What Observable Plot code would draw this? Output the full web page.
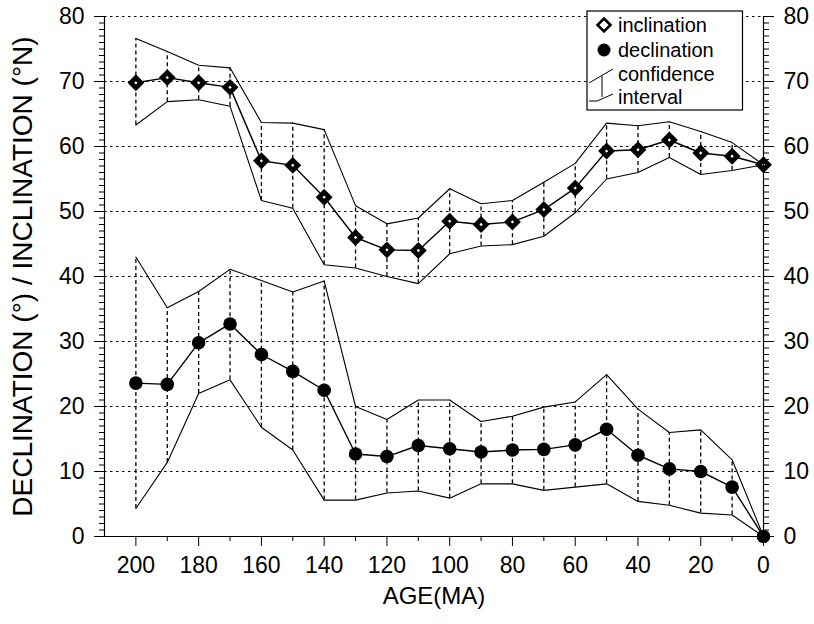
<!DOCTYPE html>
<html>
<head>
<meta charset="utf-8">
<script src="https://cdn.jsdelivr.net/npm/d3@7"></script>
<script src="https://cdn.jsdelivr.net/npm/@observablehq/plot@0.6"></script>
<style>
  html, body { margin: 0; padding: 0; background: #fff; }
  #chart svg { font-family: "Liberation Sans", Arial, sans-serif; }
</style>
</head>
<body>
<div id="chart"></div>
<script>
const ages = [200,190,180,170,160,150,140,130,120,110,100,90,80,70,60,50,40,30,20,10,0];
const incMean  = [69.8,70.6,69.8,69.1,57.8,57.1,52.2,46.0,44.1,44.0,48.5,48.0,48.4,50.3,53.6,59.3,59.5,61.0,59.0,58.5,57.2];
const incUpper = [76.6,74.6,72.5,72.1,63.7,63.6,62.6,50.9,48.1,49.0,53.5,51.2,51.7,54.5,57.4,63.6,63.2,63.8,62.3,60.6,57.2];
const incLower = [63.3,66.9,67.2,66.2,51.7,50.5,41.8,41.3,40.0,38.9,43.5,44.7,44.9,46.2,49.8,55.0,56.0,58.3,55.7,56.3,57.2];
const decMean  = [23.6,23.4,29.8,32.7,28.0,25.4,22.5,12.7,12.3,14.0,13.5,13.0,13.3,13.4,14.1,16.5,12.5,10.4,10.0,7.6,0];
const decUpper = [43.0,35.2,37.7,41.1,39.4,37.6,39.3,20.0,18.0,21.0,21.0,17.7,18.5,19.9,20.7,24.9,19.6,16.0,16.4,11.8,0];
const decLower = [4.3,11.4,22.0,24.1,16.8,13.3,5.6,5.6,6.7,7.0,5.9,8.1,8.1,7.1,7.6,8.1,5.4,4.8,3.6,3.3,0];

const xDomain = [210, 0];
const yDomain = [0, 80];
const xMajorTicks = [200,180,160,140,120,100,80,60,40,20,0];
const xMinorTicks = [190,170,150,130,110,90,70,50,30,10];
const yMajorTicks = [0,10,20,30,40,50,60,70,80];
const yMinorTicks = d3.range(0, 81, 1);
const yGrid = [0,10,20,30,40,50,60,70,80];
const xLabel = "AGE(MA)";
const yLabel = "DECLINATION (°) / INCLINATION (°N)";
const legendItems = ["inclination", "declination", "confidence", "interval"];

const inc = ages.map((a, i) => ({age: a, mean: incMean[i], hi: incUpper[i], lo: incLower[i]}));
const dec = ages.map((a, i) => ({age: a, mean: decMean[i], hi: decUpper[i], lo: decLower[i]}));

const fontSize = 23;

const plot = Plot.plot({
  width: 814,
  height: 624,
  marginLeft: 104,
  marginRight: 51,
  marginTop: 16,
  marginBottom: 88,
  style: {fontFamily: '"Liberation Sans", Arial, sans-serif', background: "white", color: "black", overflow: "visible"},
  x: {domain: xDomain, axis: null},
  y: {domain: yDomain, axis: null},
  marks: [
    Plot.ruleY(yGrid, {stroke: "black", strokeWidth: 1, strokeDasharray: "2.5,3.5"}),
    Plot.ruleX(inc, {x: "age", y1: "lo", y2: "hi", stroke: "black", strokeWidth: 1.3, strokeDasharray: "4,3"}),
    Plot.ruleX(dec, {x: "age", y1: "lo", y2: "hi", stroke: "black", strokeWidth: 1.3, strokeDasharray: "4,3"}),
    Plot.line(inc, {x: "age", y: "hi", stroke: "black", strokeWidth: 1.1}),
    Plot.line(inc, {x: "age", y: "lo", stroke: "black", strokeWidth: 1.1}),
    Plot.line(dec, {x: "age", y: "hi", stroke: "black", strokeWidth: 1.1}),
    Plot.line(dec, {x: "age", y: "lo", stroke: "black", strokeWidth: 1.1}),
    Plot.line(inc, {x: "age", y: "mean", stroke: "black", strokeWidth: 1.4}),
    Plot.line(dec, {x: "age", y: "mean", stroke: "black", strokeWidth: 1.4}),
    Plot.dot(inc, {x: "age", y: "mean", symbol: "diamond2", r: 7.6, fill: "black", stroke: "none"}),
    Plot.dot(inc, {x: "age", y: "mean", symbol: "diamond2", r: 1.5, fill: "white", stroke: "none"}),
    Plot.dot(dec, {x: "age", y: "mean", r: 6.8, fill: "black", stroke: "none"}),
    Plot.ruleX(xDomain, {stroke: "black", strokeWidth: 1.2}),
    Plot.ruleY([0], {stroke: "black", strokeWidth: 1.2}),
    Plot.axisY(yMajorTicks, {anchor: "left", tickSize: 10, tickPadding: 10, fontSize, label: null}),
    Plot.axisY(yMinorTicks, {anchor: "left", tickSize: 5, tickFormat: () => "", label: null}),
    Plot.axisY(yMajorTicks, {anchor: "right", tickSize: 10, tickPadding: 10, fontSize, label: null}),
    Plot.axisY(yMinorTicks, {anchor: "right", tickSize: 5, tickFormat: () => "", label: null}),
    Plot.axisX(xMajorTicks, {anchor: "bottom", tickSize: 10, tickPadding: 10, fontSize, label: null}),
    Plot.axisX(xMinorTicks, {anchor: "bottom", tickSize: 5, tickFormat: () => "", label: null}),
    Plot.text([xLabel], {frameAnchor: "bottom", dy: 67, text: d => d, fontSize: 24}),
    Plot.text([yLabel], {frameAnchor: "left", textAnchor: "middle", rotate: -90, dx: -81, text: d => d, fontSize: 28})
  ]
});

const svg = d3.select(plot);
const g = svg.append("g")
  .attr("font-family", '"Liberation Sans", Arial, sans-serif')
  .attr("font-size", 20)
  .attr("text-anchor", "start");
g.append("rect").attr("x", 587).attr("y", 11).attr("width", 155.5).attr("height", 99)
  .attr("fill", "white").attr("stroke", "black").attr("stroke-width", 1.2);
g.append("path").attr("d", "M604,18.5 L610.5,25 L604,31.5 L597.5,25 Z")
  .attr("fill", "white").attr("stroke", "black").attr("stroke-width", 2.6);
g.append("circle").attr("cx", 604).attr("cy", 50).attr("r", 6.5).attr("fill", "black");
g.append("path").attr("d", "M589,83 L613,69 M589,101 L597,101 L613,94 M602,76 L602,97")
  .attr("fill", "none").attr("stroke", "black").attr("stroke-width", 1);
const ys = [25, 50, 74, 97];
legendItems.forEach((t, i) => {
  g.append("text").attr("x", 618).attr("y", ys[i]).attr("dy", "0.35em").attr("text-anchor", "start").text(t);
});

document.getElementById("chart").appendChild(plot);
</script>
</body>
</html>
